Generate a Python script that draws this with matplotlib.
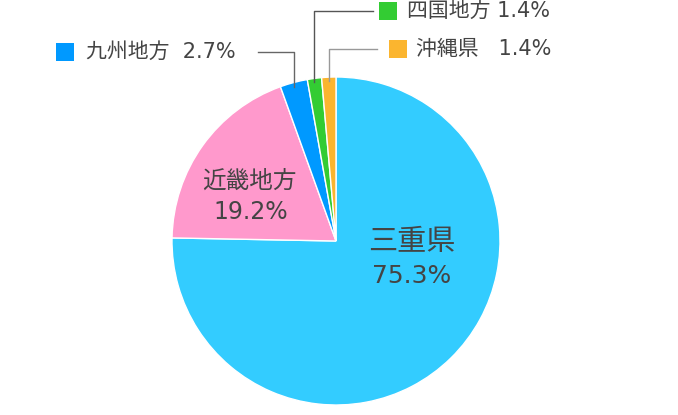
import matplotlib
matplotlib.use('Agg')
import matplotlib.pyplot as plt
from matplotlib.patches import Rectangle
import numpy as np

# DejaVu first for the wide digits, CJK glyphs fall back to Noto
plt.rcParams['font.family'] = ['DejaVu Sans', 'Noto Sans CJK JP']

# data
labels = ['三重県', '近畿地方', '九州地方', '四国地方', '沖縄県']
values = [75.3, 19.2, 2.7, 1.4, 1.4]
colors = ['#33ccff', '#ff99cc', '#0099ff', '#33cc33', '#fbb52f']
pct_text = ['75.3%', '19.2%', '2.7%', '1.4%', '1.4%']

W, H = 678, 415
fig = plt.figure(figsize=(W / 100, H / 100), dpi=100)
ax = fig.add_axes([0, 0, 1, 1])

cx, cy, r = 336, H - 241, 164
ax.pie(values, colors=colors, startangle=90, counterclock=False,
       center=(cx, cy), radius=r, frame=True,
       wedgeprops=dict(edgecolor='white', linewidth=1))
ax.set_xlim(0, W)
ax.set_ylim(0, H)
ax.set_aspect('equal')
ax.axis('off')

txt = '#444444'
# inside labels
ax.text(412, H - 242, labels[0], fontsize=21, color=txt, ha='center', va='center')
ax.text(412, H - 276, pct_text[0], fontsize=18, color=txt, ha='center', va='center')
ax.text(249, H - 181, labels[1], fontsize=17, color=txt, ha='center', va='center')
ax.text(251, H - 212, pct_text[1], fontsize=17, color=txt, ha='center', va='center')

# outside labels for small slices
cum = np.cumsum([0] + values)
total = cum[-1]

def slice_edge(i):
    mid = (cum[i] + cum[i + 1]) / 2 / total * 2 * np.pi
    return cx + r * np.sin(mid), cy + r * np.cos(mid)

# (slice, label y, line end x, square x, text x, text, line colour)
outs = [
    (2, H - 52, 258, 56, 86, labels[2] + '  ' + pct_text[2], '#666666'),
    (3, H - 11, 373, 379, 407, labels[3] + ' ' + pct_text[3], '#555555'),
    (4, H - 49, 377, 389, 416, labels[4] + '   ' + pct_text[4], '#999999'),
]
for i, ly, lx, sx, tx, s, lc in outs:
    ex, ey = slice_edge(i)
    ax.plot([ex, ex, lx], [ey - 4, ly, ly], color=lc, lw=1)
    ax.add_patch(Rectangle((sx, ly - 9), 18, 18, color=colors[i], lw=0))
    ax.text(tx, ly, s, fontsize=15, color=txt, ha='left', va='center')

fig.savefig('out.png', dpi=100)
